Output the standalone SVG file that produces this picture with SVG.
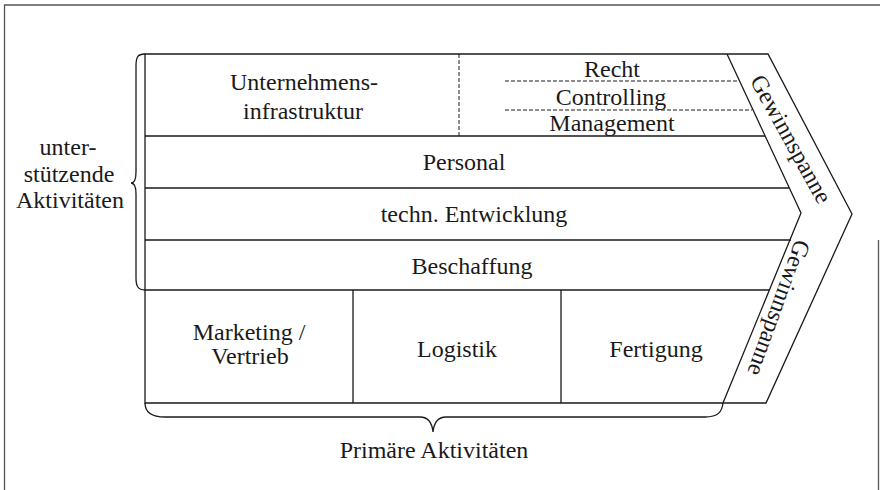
<svg xmlns="http://www.w3.org/2000/svg" width="880" height="490" viewBox="0 0 880 490">
<style>
.ln{fill:none;stroke:#1a1a1a;stroke-width:1.3}
.ds{fill:none;stroke:#1a1a1a;stroke-width:1;stroke-dasharray:4 2}
.fr{fill:none;stroke:#555;stroke-width:1.3}
text{font-family:"Liberation Serif","Times New Roman",serif;font-size:24px;fill:#1a1a1a;text-anchor:middle}
</style>
<rect width="880" height="490" fill="#fff"/>
<g id="frame">
<path class="fr" d="M4.5,490 L4.5,5 L880,5"/>
<path class="fr" d="M878.5,240 L878.5,490"/>
</g>
<g id="connectors">
<path class="ln" d="M145,54 C137,54 136,58 136,66 L136,172 C136,179 134,183 131,183 C134,183 136,187 136,194 L136,278 C136,286 138,290 145,290"/>
<path class="ln" d="M145,403 C145,413 152,417 165,417 L420,417 C428,417 432,422 433,432 C434,422 438,417 446,417 L705,417 C718,417 722,412 723,403"/>
</g>
<g id="support">
<path class="ln" d="M145,54 L768,54 L852,214 L766,403 L145,403 Z"/>
<path class="ln" d="M145,136 L765,136 M145,188 L789,188 M145,240 L791,240 M145,290 L769,290"/>
<path class="ln" d="M727,54 L801,213 L723,403"/>
<path class="ln" d="M353,290 L353,403 M561,290 L561,403"/>
</g>
<g id="infrastruktur">
<path class="ds" d="M459,54 L459,136"/>
<text x="304" y="90">Unternehmens-</text>
<text x="303" y="119">infrastruktur</text>
</g>
<g id="recht-controlling-management">
<path class="ds" d="M505,81 L739,81 M505,110 L752,110"/>
<text x="612" y="77">Recht</text>
<text x="611" y="105">Controlling</text>
<text x="612" y="131">Management</text>
</g>
<g id="personal"><text x="464" y="170">Personal</text></g>
<g id="entwicklung"><text x="474" y="222">techn. Entwicklung</text></g>
<g id="beschaffung"><text x="472" y="274">Beschaffung</text></g>
<g id="marketing"><text x="249" y="340">Marketing /</text><text x="250" y="364">Vertrieb</text></g>
<g id="logistik"><text x="457" y="357">Logistik</text></g>
<g id="fertigung"><text x="656" y="357">Fertigung</text></g>
<g id="gewinn-oben"><text transform="translate(791,139) rotate(61)" dy="8">Gewinnspanne</text></g>
<g id="gewinn-unten"><text transform="translate(779,308) rotate(110)" dy="8">Gewinnspanne</text></g>
<g id="unterstuetzende">
<text x="68" y="155">unter-</text>
<text x="69" y="182">stützende</text>
<text x="70" y="208">Aktivitäten</text>
</g>
<g id="primaere"><text x="434" y="458">Primäre Aktivitäten</text></g>
</svg>
